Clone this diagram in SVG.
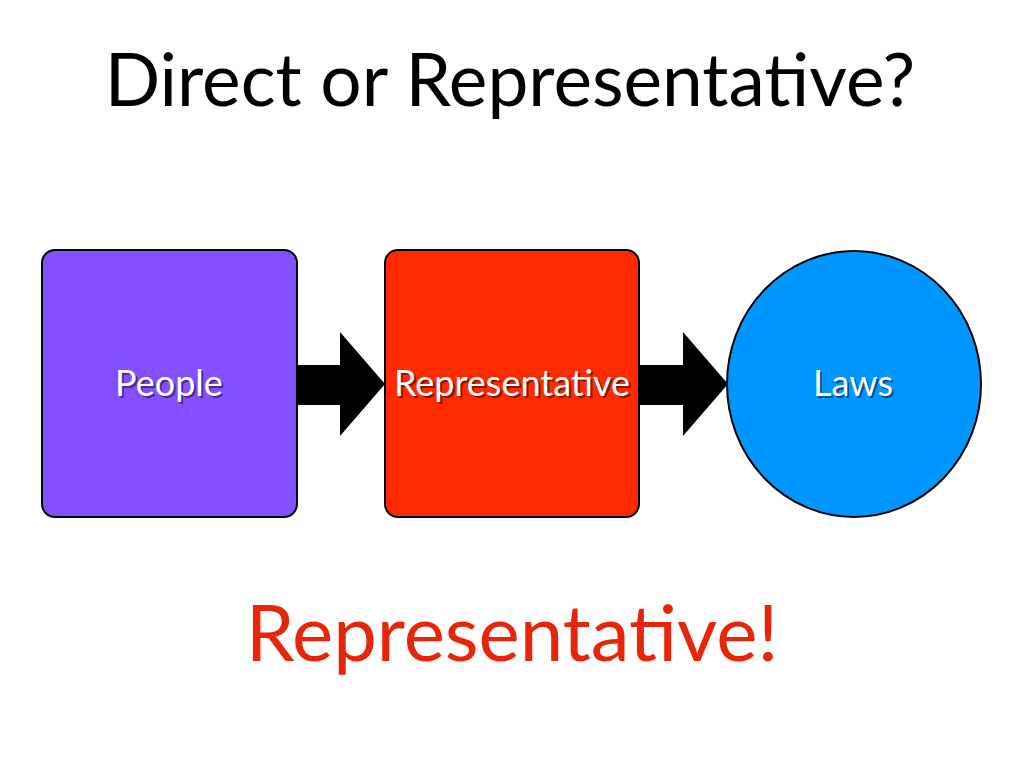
<svg xmlns="http://www.w3.org/2000/svg" width="1024" height="768" viewBox="0 0 1024 768">
<defs>
<style>
.t{font-family:Lato,"Open Sans",sans-serif;text-anchor:middle}
.lbl{font-family:Lato,"Open Sans",sans-serif;text-anchor:middle;font-size:36px;fill:#fff}
.sh{font-family:Lato,"Open Sans",sans-serif;text-anchor:middle;font-size:36px;fill:#000;opacity:0.45}
.n{stroke:#000;stroke-width:2}
</style>
</defs>
<rect width="1024" height="768" fill="#fff"/>
<text class="t" x="510" y="106" font-size="73" fill="#000">Direct or Representative?</text>
<g id="connectors">
<polygon points="297,365 340,365 340,332 385,384 340,436 340,405 297,405" fill="#000"/>
<polygon points="639,365 683,365 683,332 728,384 683,436 683,405 639,405" fill="#000"/>
</g>
<g id="people">
<rect class="n" x="42" y="250" width="255" height="267" rx="13" fill="#8450FF"/>
<text class="sh" x="171" y="398">People</text>
<text class="lbl" x="169" y="396">People</text>
</g>
<g id="representative">
<rect class="n" x="385" y="250" width="254" height="267" rx="13" fill="#FF2A00"/>
<text class="sh" x="514" y="398">Representative</text>
<text class="lbl" x="512" y="396">Representative</text>
</g>
<g id="laws">
<ellipse class="n" cx="854" cy="384" rx="127" ry="133" fill="#0096FF"/>
<text class="sh" x="855" y="398">Laws</text>
<text class="lbl" x="853" y="396">Laws</text>
</g>
<text class="t" x="512" y="661" font-size="78" fill="#E5260A">Representative!</text>
</svg>
